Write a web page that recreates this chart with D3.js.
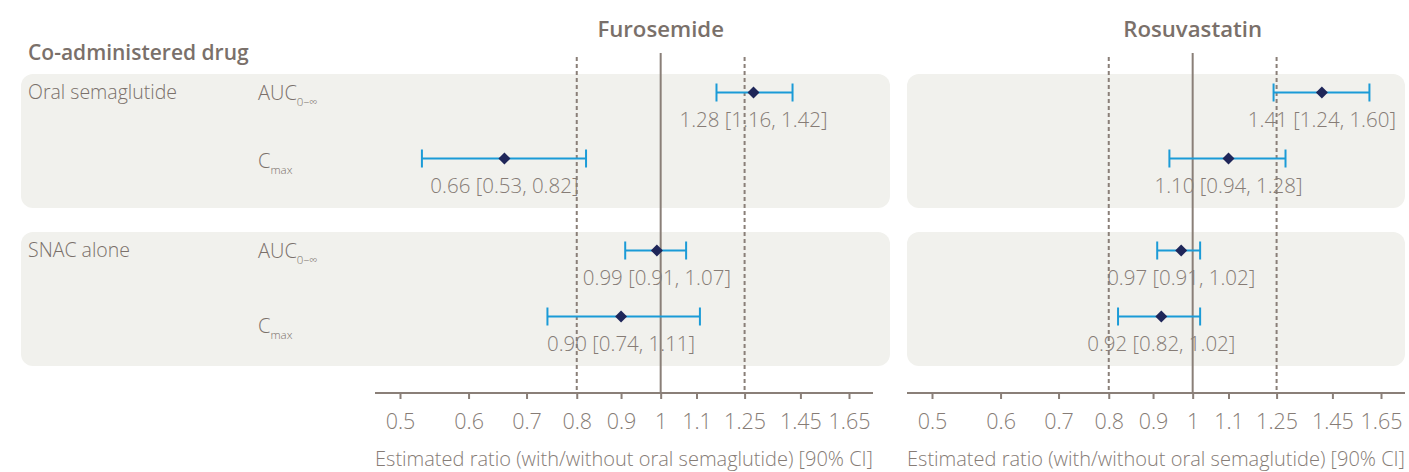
<!DOCTYPE html>
<html>
<head>
<meta charset="utf-8">
<script src="https://cdn.jsdelivr.net/npm/d3@7"></script>
<style>
  html, body { margin: 0; padding: 0; background: #ffffff; }
  svg { display: block; font-family: "Open Sans", "Noto Sans", sans-serif; }
</style>
</head>
<body>
<svg id="chart" width="1409" height="472"></svg>
<script>
// Drug–drug interaction forest plot: ratio of exposure with/without oral semaglutide
const drugs = ["Furosemide", "Rosuvastatin"];
const groups = ["Oral semaglutide", "SNAC alone"];
const paramNames = ["AUC", "C"];
const paramSubs = ["0–∞", "max"];

// rows: [oral sema AUC, oral sema Cmax, SNAC AUC, SNAC Cmax]
const furosemideEst = [1.28, 0.66, 0.99, 0.90];
const furosemideLo  = [1.16, 0.53, 0.91, 0.74];
const furosemideHi  = [1.42, 0.82, 1.07, 1.11];

const rosuvastatinEst = [1.41, 1.10, 0.97, 0.92];
const rosuvastatinLo  = [1.24, 0.94, 0.91, 0.82];
const rosuvastatinHi  = [1.60, 1.28, 1.02, 1.02];

const tickValues = [0.5, 0.6, 0.7, 0.8, 0.9, 1, 1.1, 1.25, 1.45, 1.65];
const boundaryLines = [0.8, 1.25];
const noEffect = 1;

const axisTitle = "Estimated ratio (with/without oral semaglutide) [90% CI]";
const headerLabel = "Co-administered drug";

// ---- layout ----
const textColor = "#7a706a";
const valueColor = "#867c76";
const lineColor = "#8a7f78";
const panelFill = "#f1f1ed";
const ciColor = "#1b9bd7";
const pointColor = "#1f2659";

const svg = d3.select("#chart");

const panelX = [[21, 890], [907, 1405]];
const axisSpan = [[375, 873], [907, 1405]];
const groupTop = [74, 232];
const groupHeight = 134;
const rowOffset = [18.5, 84.5];
const paramLabelDy = [[7, 9.5], [7, 16.5]];
const axisY = 393;
const lineTop = 53;

const seriesByDrug = [
  { est: furosemideEst, lo: furosemideLo, hi: furosemideHi },
  { est: rosuvastatinEst, lo: rosuvastatinLo, hi: rosuvastatinHi }
];

const rowY = i => groupTop[Math.floor(i / 2)] + rowOffset[i % 2];
const fmt = d3.format(".2f");

const scales = axisSpan.map(([a, b]) =>
  d3.scaleLog().domain([0.5, 1.65]).range([a + 25, b - 24]));

// panel backgrounds
drugs.forEach((drug, di) => {
  groups.forEach((g, gi) => {
    svg.append("rect")
      .attr("x", panelX[di][0]).attr("y", groupTop[gi])
      .attr("width", panelX[di][1] - panelX[di][0])
      .attr("height", groupHeight)
      .attr("rx", 12).attr("ry", 12)
      .attr("fill", panelFill);
  });
});

// header
svg.append("text")
  .attr("x", 28).attr("y", 60)
  .attr("font-size", 21).attr("font-weight", 600)
  .attr("fill", textColor)
  .text(headerLabel);

// group and parameter labels
groups.forEach((g, gi) => {
  svg.append("text")
    .attr("x", 28).attr("y", groupTop[gi] + 25)
    .attr("font-size", 19.5).attr("font-weight", 300)
    .attr("fill", textColor)
    .text(g);
  paramNames.forEach((p, pi) => {
    const t = svg.append("text")
      .attr("x", 258)
      .attr("y", rowY(gi * 2 + pi) + paramLabelDy[gi][pi])
      .attr("font-size", 20).attr("font-weight", 300)
      .attr("fill", textColor);
    t.append("tspan").text(p);
    t.append("tspan").attr("font-size", 11.5).attr("dy", 6).text(paramSubs[pi]);
  });
});

drugs.forEach((drug, di) => {
  const x = scales[di];
  const s = seriesByDrug[di];
  const g = svg.append("g");

  // title
  g.append("text")
    .attr("x", x(noEffect)).attr("y", 37)
    .attr("text-anchor", "middle")
    .attr("font-size", 22.2).attr("font-weight", 600)
    .attr("fill", textColor)
    .text(drug);

  // reference lines
  g.selectAll("line.bound").data(boundaryLines).join("line")
    .attr("class", "bound")
    .attr("x1", d => x(d)).attr("x2", d => x(d))
    .attr("y1", lineTop + 4).attr("y2", axisY)
    .attr("stroke", lineColor).attr("stroke-width", 2)
    .attr("stroke-dasharray", "4,3");

  g.append("line")
    .attr("x1", x(noEffect)).attr("x2", x(noEffect))
    .attr("y1", lineTop).attr("y2", axisY)
    .attr("stroke", lineColor).attr("stroke-width", 2);

  // axis
  const axis = d3.axisBottom(x)
    .tickValues(tickValues)
    .tickFormat(d3.format("~g"))
    .tickSize(6);
  const ag = g.append("g").attr("transform", `translate(0,${axisY})`).call(axis);
  ag.select(".domain").remove();
  ag.selectAll(".tick line").attr("stroke", lineColor).attr("stroke-width", 2);
  ag.selectAll(".tick text")
    .attr("y", 35.5).attr("dy", null)
    .attr("font-size", 21.5).attr("font-weight", 300)
    .attr("font-family", "Open Sans, Noto Sans, sans-serif")
    .attr("fill", valueColor);
  g.append("line")
    .attr("x1", axisSpan[di][0]).attr("x2", axisSpan[di][1])
    .attr("y1", axisY).attr("y2", axisY)
    .attr("stroke", lineColor).attr("stroke-width", 2);

  g.append("text")
    .attr("x", (axisSpan[di][0] + axisSpan[di][1]) / 2).attr("y", 466)
    .attr("text-anchor", "middle")
    .attr("font-size", 20).attr("font-weight", 300)
    .attr("fill", valueColor)
    .text(axisTitle);

  // confidence intervals
  const rows = s.est.map((e, i) => ({ est: e, lo: s.lo[i], hi: s.hi[i], y: rowY(i) }));
  const ci = g.selectAll("g.ci").data(rows).join("g").attr("class", "ci");
  ci.append("line")
    .attr("x1", d => x(d.lo)).attr("x2", d => x(d.hi))
    .attr("y1", d => d.y).attr("y2", d => d.y)
    .attr("stroke", ciColor).attr("stroke-width", 2);
  ci.append("line")
    .attr("x1", d => x(d.lo)).attr("x2", d => x(d.lo))
    .attr("y1", d => d.y - 9).attr("y2", d => d.y + 9)
    .attr("stroke", ciColor).attr("stroke-width", 2);
  ci.append("line")
    .attr("x1", d => x(d.hi)).attr("x2", d => x(d.hi))
    .attr("y1", d => d.y - 9).attr("y2", d => d.y + 9)
    .attr("stroke", ciColor).attr("stroke-width", 2);
  ci.append("path")
    .attr("d", d => {
      const cx = x(d.est), cy = d.y, r = 6;
      return `M${cx},${cy - r}L${cx + r},${cy}L${cx},${cy + r}L${cx - r},${cy}Z`;
    })
    .attr("fill", pointColor);
  ci.append("text")
    .attr("x", d => x(d.est)).attr("y", d => d.y + 34)
    .attr("text-anchor", "middle")
    .attr("font-size", 20.5).attr("font-weight", 300)
    .attr("fill", valueColor)
    .text(d => `${fmt(d.est)} [${fmt(d.lo)}, ${fmt(d.hi)}]`);
});
</script>
</body>
</html>
